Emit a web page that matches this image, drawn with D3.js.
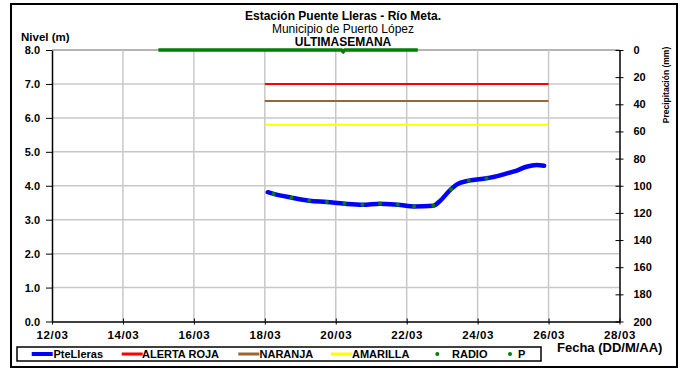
<!DOCTYPE html>
<html>
<head>
<meta charset="utf-8">
<script src="https://cdn.jsdelivr.net/npm/d3@7"></script>
<style>
  html, body { margin: 0; padding: 0; background: #ffffff; }
  svg { display: block; font-family: "Liberation Sans", Arial, sans-serif; }
</style>
</head>
<body>
<svg id="chart" width="684" height="370"></svg>
<script>
// ---------- DATA ----------
const titleLines = ["Estación Puente Lleras - Río Meta.", "Municipio de Puerto López", "ULTIMASEMANA"];
const yTickLabels = [0, 1, 2, 3, 4, 5, 6, 7, 8];
const y2TickLabels = [0, 20, 40, 60, 80, 100, 120, 140, 160, 180, 200];
const xTickDates = ["2016-03-12 00:00", "2016-03-14 00:00", "2016-03-16 00:00", "2016-03-18 00:00", "2016-03-20 00:00",
                    "2016-03-22 00:00", "2016-03-24 00:00", "2016-03-26 00:00", "2016-03-28 00:00"];

// PteLleras level (m)
const levelDates = ["2016-03-18 02:00", "2016-03-18 06:00", "2016-03-18 18:00", "2016-03-19 06:00", "2016-03-19 18:00",
                    "2016-03-20 06:00", "2016-03-20 18:00", "2016-03-21 06:00", "2016-03-21 10:00", "2016-03-21 18:00",
                    "2016-03-22 05:00", "2016-03-22 18:00", "2016-03-22 22:00", "2016-03-23 06:00", "2016-03-23 10:00",
                    "2016-03-23 18:00", "2016-03-24 06:00", "2016-03-24 14:00", "2016-03-24 21:00", "2016-03-25 02:00",
                    "2016-03-25 09:00", "2016-03-25 16:00", "2016-03-25 21:00"];
const levelValues = [3.81, 3.76, 3.65, 3.56, 3.52,
                     3.47, 3.44, 3.47, 3.46, 3.44,
                     3.39, 3.41, 3.53, 3.90, 4.04,
                     4.15, 4.22, 4.29, 4.38, 4.44,
                     4.56, 4.61, 4.59];

// RADIO readings (m)
const radioDates = ["2016-03-18 06:00", "2016-03-18 18:00", "2016-03-19 06:00", "2016-03-19 18:00", "2016-03-20 06:00",
                    "2016-03-20 18:00", "2016-03-21 06:00", "2016-03-21 18:00", "2016-03-22 05:00", "2016-03-22 18:00",
                    "2016-03-23 06:00", "2016-03-23 18:00", "2016-03-24 06:00"];
const radioValues = [3.76, 3.65, 3.56, 3.52, 3.47, 3.44, 3.47, 3.44, 3.39, 3.41, 3.90, 4.15, 4.22];

// Alert thresholds (m)
const alertStart = "2016-03-18 00:00";
const alertEnd = "2016-03-26 00:00";
const alertRoja = 7.0;
const alertNaranja = 6.5;
const alertAmarilla = 5.8;

// P precipitation (mm, right axis)
const pDates = ["2016-03-15 00:00", "2016-03-20 04:00", "2016-03-20 05:00", "2016-03-20 06:00", "2016-03-22 07:30"];
const pValues = [0, 0, 1.5, 0, 0];

const legendItems = [
  { label: "PteLleras", color: "#0000ff", type: "line", w: 4 },
  { label: "ALERTA ROJA", color: "#ff0000", type: "line", w: 3 },
  { label: "NARANJA", color: "#996633", type: "line", w: 3 },
  { label: "AMARILLA", color: "#ffff00", type: "line", w: 3 },
  { label: "RADIO", color: "#008000", type: "dot" },
  { label: "P", color: "#008000", type: "dot" }
];

// ---------- SETUP ----------
const parse = d3.timeParse("%Y-%m-%d %H:%M");
const svg = d3.select("#chart");
const pLeft = 52, pRight = 619.5, pTop = 50, pBottom = 321.5;

const x = d3.scaleTime().domain([parse(xTickDates[0]), parse(xTickDates[xTickDates.length - 1])]).range([pLeft, pRight]);
const y = d3.scaleLinear().domain([0, 8]).range([pBottom, pTop]);
const y2 = d3.scaleLinear().domain([0, 200]).range([pTop, pBottom]);

// outer frame
svg.append("rect").attr("x", 11).attr("y", 4).attr("width", 666).attr("height", 363)
  .attr("fill", "none").attr("stroke", "#000").attr("stroke-width", 2);

// titles
svg.append("text").attr("x", 343).attr("y", 20).attr("text-anchor", "middle")
  .attr("font-size", 12).attr("font-weight", "bold").text(titleLines[0]);
svg.append("text").attr("x", 343).attr("y", 33).attr("text-anchor", "middle")
  .attr("font-size", 12).text(titleLines[1]);
svg.append("text").attr("x", 343).attr("y", 46).attr("text-anchor", "middle")
  .attr("font-size", 12).attr("font-weight", "bold").text(titleLines[2]);
svg.append("text").attr("x", 21).attr("y", 41)
  .attr("font-size", 11.5).attr("font-weight", "bold").text("Nivel (m)");

// gridlines
const grid = svg.append("g");
yTickLabels.filter(v => v > 0).forEach(v => {
  grid.append("line").attr("x1", pLeft).attr("x2", pRight).attr("y1", y(v)).attr("y2", y(v))
    .attr("stroke", v === 8 ? "#9a9a9a" : "#c8c8c8").attr("stroke-width", 1.5);
});
xTickDates.slice(1, -1).forEach(d => {
  grid.append("line").attr("x1", x(parse(d))).attr("x2", x(parse(d))).attr("y1", pTop).attr("y2", pBottom)
    .attr("stroke", "#c8c8c8").attr("stroke-width", 1.5);
});

// axes
const xAxis = svg.append("g").attr("transform", `translate(0,${pBottom})`)
  .call(d3.axisBottom(x).tickValues(xTickDates.map(parse)).tickFormat(d3.timeFormat("%d/%m")).tickSize(3).tickSizeOuter(0).tickPadding(6));
xAxis.selectAll(".tick line").attr("y1", -3).attr("y2", 3).attr("stroke", "#000");
xAxis.select(".domain").attr("stroke", "#000").attr("stroke-width", 1.5);
xAxis.selectAll("text").attr("font-size", 11.5).attr("font-weight", "bold").attr("fill", "#000")
  .attr("font-family", "Liberation Sans, Arial, sans-serif").attr("letter-spacing", 0.6);

const yAxis = svg.append("g").attr("transform", `translate(${pLeft},0)`)
  .call(d3.axisLeft(y).tickValues(yTickLabels).tickFormat(d3.format(".1f")).tickSize(6).tickSizeOuter(0).tickPadding(6));
yAxis.select(".domain").attr("stroke", "#000").attr("stroke-width", 1.5);
yAxis.selectAll(".tick line").attr("stroke", "#000");
yAxis.selectAll("text").attr("font-size", 11).attr("font-weight", "bold").attr("fill", "#000")
  .attr("font-family", "Liberation Sans, Arial, sans-serif");

const y2Axis = svg.append("g").attr("transform", `translate(${pRight},0)`)
  .call(d3.axisRight(y2).tickValues(y2TickLabels).tickSize(4).tickSizeOuter(0).tickPadding(10));
y2Axis.selectAll(".tick line").attr("x1", -4).attr("x2", 4).attr("stroke", "#000");
y2Axis.select(".domain").attr("stroke", "#000").attr("stroke-width", 1.5);
y2Axis.selectAll("text").attr("font-size", 11).attr("font-weight", "bold").attr("fill", "#000")
  .attr("font-family", "Liberation Sans, Arial, sans-serif");

// right axis title (rotated)
svg.append("text").attr("transform", "translate(669,85) rotate(-90)").attr("text-anchor", "middle")
  .attr("font-size", 8.5).attr("font-weight", "bold").text("Precipitación (mm)");

// P precipitation line (green markers)
const pLine = d3.line().x((d, i) => x(parse(pDates[i]))).y(d => y2(d));
svg.append("path").datum(pValues).attr("d", pLine).attr("fill", "none")
  .attr("stroke", "#008000").attr("stroke-width", 3.5).attr("stroke-linejoin", "round");

// Alert lines
[[alertRoja, "#ff0000"], [alertNaranja, "#996633"], [alertAmarilla, "#ffff00"]].forEach(([v, c]) => {
  svg.append("line").attr("x1", x(parse(alertStart))).attr("x2", x(parse(alertEnd)))
    .attr("y1", y(v)).attr("y2", y(v)).attr("stroke", c).attr("stroke-width", 2);
});

// Level line
const lvLine = d3.line().curve(d3.curveMonotoneX).x((d, i) => x(parse(levelDates[i]))).y(d => y(d));
svg.append("path").datum(levelValues).attr("d", lvLine).attr("fill", "none")
  .attr("stroke", "#0000ff").attr("stroke-width", 4.5).attr("stroke-linecap", "round").attr("stroke-linejoin", "round");

// Radio points
svg.append("g").selectAll("circle").data(radioValues).join("circle")
  .attr("cx", (d, i) => x(parse(radioDates[i]))).attr("cy", d => y(d)).attr("r", 2).attr("fill", "#008000");

// Legend
const lg = svg.append("g");
lg.append("rect").attr("x", 17).attr("y", 347).attr("width", 524).attr("height", 14)
  .attr("fill", "#fff").attr("stroke", "#000").attr("stroke-width", 1.5);
const legendX = [31.7, 121.7, 238.3, 331, 437.3, 510];
const legendTextX = [53.5, 142, 259.5, 352, 452, 518];
legendItems.forEach((it, i) => {
  if (it.type === "line") {
    lg.append("line").attr("x1", legendX[i]).attr("x2", legendX[i] + 21).attr("y1", 354).attr("y2", 354)
      .attr("stroke", it.color).attr("stroke-width", it.w);
  } else {
    lg.append("circle").attr("cx", legendX[i]).attr("cy", 354).attr("r", 2).attr("fill", it.color);
  }
  lg.append("text").attr("x", legendTextX[i]).attr("y", 358).attr("font-size", 11).attr("font-weight", "bold").text(it.label);
});

svg.append("text").attr("x", 557).attr("y", 352).attr("font-size", 13).attr("font-weight", "bold").text("Fecha (DD/M/AA)");
</script>
</body>
</html>
